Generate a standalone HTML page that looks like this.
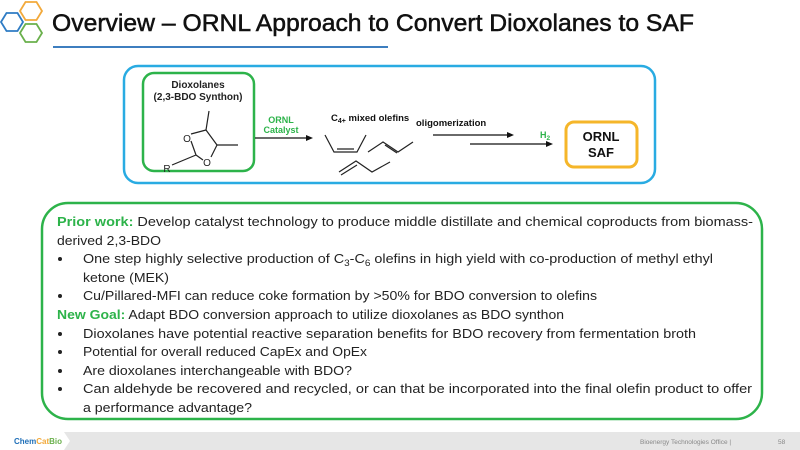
<!DOCTYPE html>
<html><head><meta charset="utf-8"><style>
html,body{margin:0;padding:0;background:#fff}
svg{display:block}
</style></head><body>
<svg width="800" height="450" viewBox="0 0 800 450" xmlns="http://www.w3.org/2000/svg" font-family="Liberation Sans, sans-serif">
<!-- hexagon logo -->
<g fill="none" stroke-width="1.8">
<polygon points="1,22 6.5,13 17.5,13 23,22 17.5,31 6.5,31" stroke="#2f7cc4"/>
<polygon points="20,11 25.5,2 36.5,2 42,11 36.5,20 25.5,20" stroke="#f2a93b"/>
<polygon points="20,33 25.5,24 36.5,24 42,33 36.5,42 25.5,42" stroke="#6ab04c"/>
</g>
<text x="52" y="31" font-size="24" fill="#111" stroke="#111" stroke-width="0.5" textLength="642" lengthAdjust="spacingAndGlyphs">Overview – ORNL Approach to Convert Dioxolanes to SAF</text>
<line x1="53" y1="47" x2="388" y2="47" stroke="#3d7ebf" stroke-width="2"/>

<!-- diagram -->
<rect x="124" y="66" width="531" height="117" rx="14" fill="#fff" stroke="#29abe2" stroke-width="2.5"/>
<rect x="143" y="73" width="111" height="98" rx="11" fill="#fff" stroke="#2db34a" stroke-width="2.5"/>
<text x="198" y="88" font-size="10" font-weight="bold" text-anchor="middle" fill="#222">Dioxolanes</text>
<text x="198" y="100" font-size="10" font-weight="bold" text-anchor="middle" fill="#222">(2,3-BDO Synthon)</text>
<g stroke="#222" stroke-width="1.2" fill="none">
<line x1="191" y1="141" x2="196" y2="155"/>
<line x1="196" y1="155" x2="203" y2="160"/>
<line x1="191" y1="134" x2="206" y2="130"/>
<line x1="206" y1="130" x2="217" y2="145"/>
<line x1="217" y1="145" x2="211" y2="157"/>
<line x1="206" y1="130" x2="209" y2="111"/>
<line x1="217" y1="145" x2="238" y2="145"/>
<line x1="196" y1="155" x2="172" y2="165"/>
</g>
<text x="187" y="142" font-size="10" text-anchor="middle" fill="#222">O</text>
<text x="207" y="166" font-size="10" text-anchor="middle" fill="#222">O</text>
<text x="167" y="172" font-size="10" text-anchor="middle" fill="#222">R</text>

<text x="281" y="123" font-size="9" font-weight="bold" text-anchor="middle" fill="#2db34a">ORNL</text>
<text x="281" y="133" font-size="9" font-weight="bold" text-anchor="middle" fill="#2db34a">Catalyst</text>
<line x1="255" y1="138" x2="307" y2="138" stroke="#111" stroke-width="1.2"/>
<polygon points="313,138 306,135 306,141" fill="#111"/>

<text x="331" y="121" font-size="9.5" font-weight="bold" fill="#111">C<tspan font-size="7" dy="2">4+</tspan><tspan dy="-2"> mixed olefins</tspan></text>
<g stroke="#222" stroke-width="1.2" fill="none">
<polyline points="325,135 334,152 357,152 366,135"/>
<line x1="337" y1="149" x2="354" y2="149"/>
<polyline points="368,152 383,142 398,152 413,142"/>
<line x1="385" y1="145" x2="397" y2="153"/>
<polyline points="339,172 356,161 372,172 390,162"/>
<line x1="341" y1="175" x2="357" y2="165"/>
</g>

<text x="416" y="126" font-size="9.5" font-weight="bold" fill="#111">oligomerization</text>
<line x1="433" y1="135" x2="508" y2="135" stroke="#111" stroke-width="1.2"/>
<polygon points="514,135 507,132 507,138" fill="#111"/>
<text x="540" y="138" font-size="9" font-weight="bold" fill="#2db34a">H<tspan font-size="6.5" dy="2">2</tspan></text>
<line x1="470" y1="144" x2="547" y2="144" stroke="#111" stroke-width="1.2"/>
<polygon points="553,144 546,141 546,147" fill="#111"/>

<rect x="566" y="122" width="71" height="45" rx="8" fill="#fff" stroke="#f5b62a" stroke-width="3"/>
<text x="601" y="141" font-size="13" font-weight="bold" text-anchor="middle" fill="#111">ORNL</text>
<text x="601" y="157" font-size="13" font-weight="bold" text-anchor="middle" fill="#111">SAF</text>

<!-- text box -->
<rect x="42" y="203" width="720" height="216" rx="26" fill="#fff" stroke="#2db34a" stroke-width="2.5"/>
<g font-size="13" fill="#222">
<text x="57" y="226" textLength="696" lengthAdjust="spacingAndGlyphs"><tspan fill="#2db34a" font-weight="bold">Prior work:</tspan> Develop catalyst technology to produce middle distillate and chemical coproducts from biomass-</text>
<text x="57" y="245" textLength="104" lengthAdjust="spacingAndGlyphs">derived 2,3-BDO</text>
<text x="83" y="263" textLength="630" lengthAdjust="spacingAndGlyphs">One step highly selective production of C<tspan font-size="9" dy="3">3</tspan><tspan dy="-3">-C</tspan><tspan font-size="9" dy="3">6</tspan><tspan dy="-3"> olefins in high yield with co-production of methyl ethyl</tspan></text>
<text x="83" y="282" textLength="86" lengthAdjust="spacingAndGlyphs">ketone (MEK)</text>
<text x="83" y="300" textLength="514" lengthAdjust="spacingAndGlyphs">Cu/Pillared-MFI can reduce coke formation by &gt;50% for BDO conversion to olefins</text>
<text x="57" y="319" textLength="507" lengthAdjust="spacingAndGlyphs"><tspan fill="#2db34a" font-weight="bold">New Goal:</tspan> Adapt BDO conversion approach to utilize dioxolanes as BDO synthon</text>
<text x="83" y="338" textLength="613" lengthAdjust="spacingAndGlyphs">Dioxolanes have potential reactive separation benefits for BDO recovery from fermentation broth</text>
<text x="83" y="356" textLength="284" lengthAdjust="spacingAndGlyphs">Potential for overall reduced CapEx and OpEx</text>
<text x="83" y="375" textLength="269" lengthAdjust="spacingAndGlyphs">Are dioxolanes interchangeable with BDO?</text>
<text x="83" y="393" textLength="669" lengthAdjust="spacingAndGlyphs">Can aldehyde be recovered and recycled, or can that be incorporated into the final olefin product to offer</text>
<text x="83" y="412" textLength="169" lengthAdjust="spacingAndGlyphs">a performance advantage?</text>
<g fill="#222">
<circle cx="60" cy="259" r="2"/><circle cx="60" cy="296" r="2"/><circle cx="60" cy="334" r="2"/>
<circle cx="60" cy="352" r="2"/><circle cx="60" cy="371" r="2"/><circle cx="60" cy="389" r="2"/>
</g>
</g>

<!-- footer -->
<rect x="0" y="432" width="800" height="18" fill="#e6e6e6"/>
<polygon points="0,432 64,432 70,441 64,450 0,450" fill="#fff"/>
<text x="14" y="444" font-size="8" font-weight="bold" fill="#1f6fb8">Chem<tspan fill="#f2a93b">Cat</tspan><tspan fill="#6ab04c">Bio</tspan></text>
<text x="640" y="444" font-size="6.5" fill="#888">Bioenergy Technologies Office  |</text>
<text x="778" y="444" font-size="6.5" fill="#888">58</text>
</svg>
</body></html>
